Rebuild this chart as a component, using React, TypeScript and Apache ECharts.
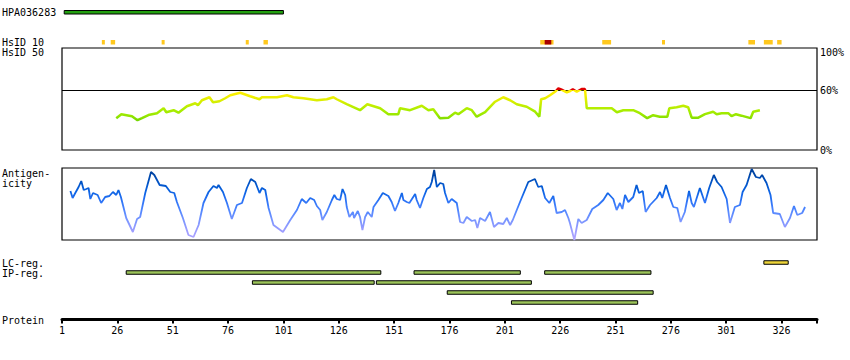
import React, { useEffect, useRef } from "react";
import * as echarts from "echarts";

// ---------------- data ----------------
const PROTEIN_LENGTH = 342;
const TICK_STEP = 25;

const antibodyName = "HPA036283";
const antibodySpan = [2, 101];

// HsID 10 identity hits (residue spans)
const hsid10Spans = [
  [19, 20], [23, 25], [46, 47], [84, 85], [92, 94], [217, 223],
  [245, 249], [272, 272], [311, 314], [318, 322], [324, 326],
];
const hsid10StrongSpans = [[219, 222]];
const hsid50Spans: number[][] = [];

// similarity (%), [residue, value]
const similarityPct = [
  [25.5, 32], [27.8, 36], [32.6, 34], [35.1, 30], [37.1, 32], [40.5, 35.5], [43.9, 37],
  [46.9, 42], [48.1, 38], [51.4, 40], [53.6, 37.5], [57.4, 44], [61.2, 47], [62.4, 45],
  [64.2, 50], [67.6, 53], [69.2, 48], [72.1, 49], [74.7, 52], [77, 55], [81.5, 57.5],
  [86, 54], [90.2, 51], [91.3, 53], [94.3, 53], [98.1, 53], [102.6, 55], [105.5, 53],
  [110.1, 52], [116.1, 50], [120.6, 51], [123.6, 53], [125.1, 51], [129.6, 46], [135.6, 40],
  [138.9, 46], [144.7, 42], [148.4, 36], [152.9, 36], [153.7, 42], [158.2, 40], [163.5, 44.5],
  [166.5, 40], [168.7, 41], [171.7, 32], [175.5, 32.5], [178.5, 37.5], [180, 36], [183.8, 42],
  [186.1, 40], [188.3, 33.5], [192.1, 38], [196.6, 48.5], [200.3, 53], [203.4, 50], [206.4, 46],
  [210.9, 43.5], [214.7, 38.5], [216.6, 33.5], [217.4, 51], [219.2, 52], [221.4, 55], [224, 59],
  [225.2, 62], [226.4, 61], [229, 58], [230.5, 59.3], [231.7, 61], [233.5, 58.5], [235.7, 61.3],
  [237.2, 61.3], [238, 42], [249.3, 42], [251.6, 38], [254.5, 40], [259, 40], [262, 37],
  [265.3, 32], [268, 35], [271, 33.5], [274.4, 33.5], [275.3, 42], [278.6, 43], [281.6, 44.5],
  [283.8, 43], [285.4, 32.5], [288.4, 32.5], [291.4, 36], [295.1, 38.5], [296.7, 36], [298.9, 37],
  [301.9, 37], [303.4, 34], [305.4, 36], [307.9, 34.5], [312, 32], [313.2, 38.5], [316.2, 40],
];

// antigenicity score, [residue, value]
const antigenicityScore = [
  [4.8, 49], [5.8, 42], [7, 47], [8.5, 53], [9.7, 59], [10.8, 50], [12, 51], [13, 52], [13.8, 41],
  [15, 47], [17.1, 45], [18.7, 37], [20.5, 43], [22.4, 44], [24, 48], [25.5, 45], [26.5, 50],
  [27.6, 43], [30, 22], [33, 8], [34.9, 21], [36.3, 23], [38.6, 47], [41.2, 68], [42.7, 65],
  [45.1, 55], [47.9, 54], [49.9, 48], [51.7, 47], [52.9, 38], [55.6, 22], [58.1, 5], [60.4, 3],
  [62.7, 15], [64.9, 37], [67.2, 48], [69.4, 54], [71, 52], [71.7, 55], [73.7, 48], [75.5, 37],
  [77.7, 21], [80, 35], [82.3, 37], [84.5, 52], [86.3, 61], [88.3, 58], [90.2, 47], [91.3, 52],
  [92.8, 50], [94.3, 32], [96.5, 15], [100.8, 8], [104.1, 20], [107.1, 30], [109.3, 41],
  [111.3, 37], [113.1, 42], [114.9, 40], [116.1, 34], [117.6, 30], [118.6, 20], [120.6, 28],
  [122.9, 40], [124, 45], [125.1, 41], [126.6, 40], [127.7, 51], [128.9, 45], [129.6, 33],
  [130.8, 23], [132.4, 28], [132.9, 22], [134.6, 29], [135.6, 23], [136.7, 10], [137.9, 23],
  [139.1, 28], [140.9, 23], [141.7, 33], [143.9, 40], [145.9, 47], [148.4, 44], [149.9, 38],
  [151.4, 29], [152.9, 37], [154.5, 47], [155.2, 40], [156.7, 38], [157.9, 37], [160.5, 46],
  [161.2, 40], [162.7, 32], [164.2, 42], [165.8, 51], [167.2, 53], [168, 58], [169.1, 70],
  [170.3, 53], [171.8, 57], [173.2, 56], [174, 47], [175.5, 37], [177, 41], [179.3, 37],
  [180.8, 18], [182.3, 17], [183.8, 23], [186.1, 19], [187.6, 20], [188.6, 12], [189.8, 22],
  [192.1, 19], [194.3, 28], [196.1, 13], [198.1, 17], [200.3, 16], [201.9, 22], [203.4, 15],
  [204.6, 20], [206.4, 30], [208.6, 42], [211.6, 58], [214.6, 61], [216.1, 53], [217.7, 54],
  [219.2, 42], [221.1, 37], [222.9, 44], [224.4, 27], [226.7, 28], [228.2, 30], [229.7, 22],
  [230.4, 17], [232.4, 0], [234.2, 21], [235.7, 17], [238, 20], [240.5, 31], [243.2, 35],
  [245.5, 40], [247.5, 47], [250, 41], [251.5, 30], [253, 37], [254.1, 31], [255.3, 45],
  [256.8, 38], [259, 43], [260.5, 55], [261.6, 47], [263.3, 49], [264.6, 28], [266.6, 35],
  [269.6, 42], [271.1, 48], [272.1, 42], [273.8, 55], [275.6, 42], [277.1, 33], [278.9, 32],
  [280.4, 18], [282.3, 28], [284.2, 49], [285.4, 37], [286.4, 33], [289.1, 52], [291.4, 37],
  [293.3, 52], [295.4, 65], [296.9, 58], [298.9, 53], [301.2, 41], [302.7, 17], [304.9, 33],
  [307.2, 35], [308.4, 48], [310.2, 55], [312.5, 71], [314.4, 63], [316.2, 62], [317.2, 65],
  [319.2, 57], [321, 45], [322.2, 27], [325.2, 26], [327.5, 13], [329.8, 22], [331.6, 34],
  [333.1, 25], [335.3, 27], [336.6, 33],
];

// regions: [start, end, lane]
const lcRegions = [[318, 329, 0]];
const ipRegions = [
  [30, 145, 1], [160, 208, 1], [219, 267, 1],
  [87, 142, 2], [143, 213, 2],
  [175, 268, 3],
  [204, 261, 4],
];

// ---------------- chart ----------------
const FONT = "'DejaVu Sans Mono', monospace";
const X0 = 62;
const XW = 755;
const toX = (r: number) => r - 1;

function buildOption() {
  const grids = [
    { left: X0, width: XW, top: 10, height: 4.5 }, // 0 antibody
    { left: X0, width: XW, top: 40, height: 4.5 }, // 1 HsID 10
    { left: X0, width: XW, top: 48, height: 102, show: true, borderColor: "#000", borderWidth: 1.2 }, // 2 similarity
    { left: X0, width: XW, top: 168, height: 72, show: true, borderColor: "#000", borderWidth: 1.2 }, // 3 antigenicity
    { left: X0, width: XW, top: 256, height: 63.5 }, // 4 regions + protein axis
  ];

  const hiddenX = (i: number) => ({
    type: "value", gridIndex: i, min: 0, max: PROTEIN_LENGTH - 1, show: false,
  });
  const xAxes: any[] = [hiddenX(0), hiddenX(1), hiddenX(2), hiddenX(3)];
  xAxes.push({
    type: "value",
    gridIndex: 4,
    min: 0,
    max: PROTEIN_LENGTH - 1,
    interval: TICK_STEP,
    position: "bottom",
    axisLine: { show: true, onZero: false, lineStyle: { color: "#000", width: 3 } },
    axisTick: { show: true, length: 4, lineStyle: { color: "#000", width: 2 } },
    axisLabel: {
      show: true,
      margin: 6,
      color: "#000",
      fontFamily: FONT,
      fontSize: 10,
      formatter: (v: number) => (v >= PROTEIN_LENGTH - 1 ? "" : String(v + 1)),
    },
    splitLine: { show: false },
  });

  const yAxes: any[] = [
    { type: "value", gridIndex: 0, min: 0, max: 1, show: false },
    { type: "value", gridIndex: 1, min: 0, max: 1, show: false },
    { type: "value", gridIndex: 2, min: 0, max: 102.5, show: false },
    { type: "value", gridIndex: 3, min: 0, max: 72, show: false },
    { type: "value", gridIndex: 4, min: -0.65, max: 5.7, inverse: true, show: false },
  ];

  const spanSeries = (
    data: number[][], gi: number, fill: string, stroke: string | null, minW: number,
  ) => ({
    type: "custom",
    xAxisIndex: gi,
    yAxisIndex: gi,
    silent: true,
    data: data.map(([s, e]) => [toX(s), toX(e)]),
    encode: { x: [0, 1] },
    renderItem: (params: any, api: any) => {
      const cs = params.coordSys;
      const x1 = api.coord([api.value(0), 0])[0];
      const x2 = api.coord([api.value(1), 0])[0];
      const w = Math.max(x2 - x1, minW);
      const inset = stroke ? 0.5 : 0;
      return {
        type: "rect",
        shape: { x: x1, y: cs.y + inset, width: w, height: cs.height - inset * 2 },
        style: { fill, stroke: stroke || undefined, lineWidth: stroke ? 1 : 0 },
      };
    },
  });

  const laneSeries = (data: number[][], fill: string) => ({
    type: "custom",
    xAxisIndex: 4,
    yAxisIndex: 4,
    silent: true,
    data: data.map(([s, e, l]) => [toX(s), toX(e), l]),
    encode: { x: [0, 1], y: 2 },
    renderItem: (_params: any, api: any) => {
      const p1 = api.coord([api.value(0), api.value(2)]);
      const p2 = api.coord([api.value(1), api.value(2)]);
      return {
        type: "rect",
        shape: { x: p1[0], y: p1[1] - 1.75, width: p2[0] - p1[0], height: 3.5 },
        style: { fill, stroke: "#000", lineWidth: 1 },
      };
    },
  });

  // similarity colouring by value (global vertical gradient over the grid)
  const simTop = 48, simBottom = 150, simMax = 102.5;
  const off = (v: number) => (simMax - v) / simMax;
  const simGradient = new echarts.graphic.LinearGradient(0, simTop, 0, simBottom, [
    { offset: 0, color: "#e00000" },
    { offset: off(60.1), color: "#e00000" },
    { offset: off(59.9), color: "#ffee00" },
    { offset: off(55), color: "#f6f000" },
    { offset: off(50), color: "#ddee00" },
    { offset: off(45), color: "#c4ee00" },
    { offset: off(40), color: "#aaee00" },
    { offset: off(35), color: "#99e800" },
    { offset: off(31), color: "#80dd00" },
    { offset: off(28), color: "#66cc00" },
    { offset: 1, color: "#44aa00" },
  ], true);

  const antTop = 168, antBottom = 240;
  const antGradient = new echarts.graphic.LinearGradient(0, antTop, 0, antBottom, [
    { offset: 0, color: "#003f98" },
    { offset: 0.1, color: "#0046a8" },
    { offset: 0.2, color: "#0052c4" },
    { offset: 0.32, color: "#0a62e2" },
    { offset: 0.45, color: "#2a72f5" },
    { offset: 0.58, color: "#4d85ff" },
    { offset: 0.72, color: "#7895ff" },
    { offset: 0.86, color: "#9a9cff" },
    { offset: 1, color: "#b2a6ff" },
  ], true);

  const txt = (text: string, x: number, y: number) => ({
    type: "text",
    x,
    y,
    silent: true,
    style: {
      text,
      fill: "#000",
      fontFamily: FONT,
      fontSize: 10,
      align: "left",
      verticalAlign: "middle",
    },
  });

  return {
    animation: false,
    backgroundColor: "#fff",
    grid: grids,
    xAxis: xAxes,
    yAxis: yAxes,
    series: [
      spanSeries([antibodySpan], 0, "#22a010", "#000", 0),
      spanSeries(hsid10Spans, 1, "#ffc81e", null, 3),
      spanSeries(hsid10StrongSpans, 1, "#a80000", null, 3),
      {
        type: "line",
        xAxisIndex: 2,
        yAxisIndex: 2,
        data: similarityPct.map(([r, v]) => [toX(r), v]),
        showSymbol: false,
        symbol: "none",
        silent: true,
        lineStyle: { width: 2.5, color: simGradient },
        z: 3,
        markLine: {
          silent: true,
          symbol: ["none", "none"],
          label: { show: false },
          lineStyle: { color: "#000", width: 1.2, type: "solid" },
          data: [{ yAxis: 60 }],
          z: 2,
        },
      },
      {
        type: "line",
        xAxisIndex: 3,
        yAxisIndex: 3,
        data: antigenicityScore.map(([r, v]) => [toX(r), v]),
        showSymbol: false,
        symbol: "none",
        silent: true,
        lineStyle: { width: 1.8, color: antGradient },
      },
      laneSeries(lcRegions, "#eed53a"),
      laneSeries(ipRegions, "#9cc45a"),
    ],
    graphic: [
      txt(antibodyName, 2, 12.5),
      txt("HsID 10", 2, 42),
      txt("HsID 50", 2, 52.5),
      txt("Antigen-", 2, 173.5),
      txt("icity", 2, 183.5),
      txt("LC-reg.", 2, 263),
      txt("IP-reg.", 2, 273),
      txt("Protein", 2, 320),
      txt("100%", 820, 52.5),
      txt("60%", 820, 90.5),
      txt("0%", 820, 150),
    ],
  };
}

export default function App() {
  const ref = useRef<HTMLDivElement>(null);
  useEffect(() => {
    if (!ref.current) return;
    const chart = echarts.init(ref.current, null, { renderer: "svg" });
    chart.setOption(buildOption() as any);
    return () => chart.dispose();
  }, []);
  return (
    <div
      ref={ref}
      style={{ position: "absolute", left: 0, top: 0, width: 850, height: 360, background: "#fff" }}
    />
  );
}
